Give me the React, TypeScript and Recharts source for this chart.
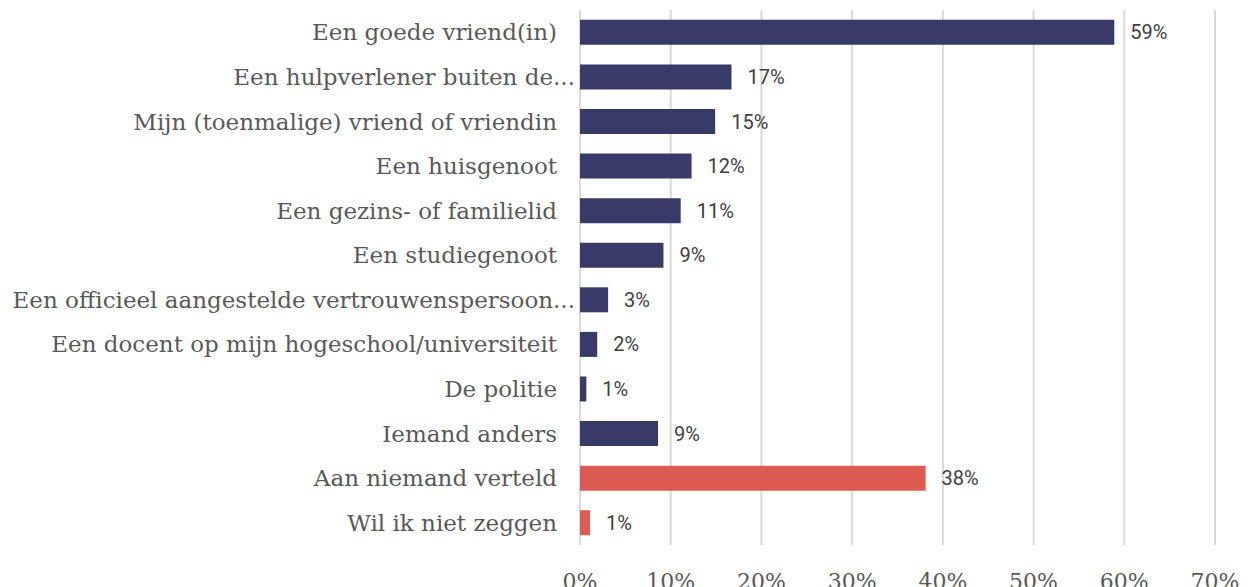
import { BarChart, Bar, XAxis, YAxis, CartesianGrid, Cell, LabelList } from 'recharts'

// answers (top to bottom) and share of respondents, in %
const categories = [
  'Een goede vriend(in)',
  'Een hulpverlener buiten de...',
  'Mijn (toenmalige) vriend of vriendin',
  'Een huisgenoot',
  'Een gezins- of familielid',
  'Een studiegenoot',
  'Een officieel aangestelde vertrouwenspersoon...',
  'Een docent op mijn hogeschool/universiteit',
  'De politie',
  'Iemand anders',
  'Aan niemand verteld',
  'Wil ik niet zeggen',
]
const shares = [58.9, 16.7, 14.9, 12.3, 11.1, 9.2, 3.1, 1.9, 0.7, 8.6, 38.1, 1.1]
const notTold = ['Aan niemand verteld', 'Wil ik niet zeggen']
const xTicks = [0, 10, 20, 30, 40, 50, 60, 70]

const data = categories.map((name, i) => ({ name, value: shares[i] }))

const SERIF = '"DejaVu Serif", serif'

const CategoryTick = ({ x, y, payload }: any) => {
  const cut = String(payload.value).endsWith('...')
  return (
    <text
      x={x - (cut ? -3 : 15)}
      y={y}
      dy="0.35em"
      textAnchor="end"
      fill="#595959"
      fontFamily={SERIF}
      fontSize={23}
    >
      {payload.value}
    </text>
  )
}

export default function App() {
  return (
    <div style={{ position: 'absolute', left: 0, top: 0, width: 1257, height: 587, background: '#fff' }}>
      <BarChart
        width={1257}
        height={587}
        data={data}
        layout="vertical"
        barCategoryGap="22%"
        margin={{ top: 10, right: 42, left: 0, bottom: 0 }}
      >
        <CartesianGrid horizontal={false} stroke="#d9d9d9" strokeWidth={2} />
        <XAxis
          type="number"
          domain={[0, 70]}
          ticks={xTicks}
          interval={0}
          height={42}
          axisLine={false}
          tickLine={false}
          tickMargin={22}
          tickFormatter={(v: number) => `${v}%`}
          tick={{ fill: '#595959', fontFamily: SERIF, fontSize: 22 }}
        />
        <YAxis
          type="category"
          dataKey="name"
          width={580}
          axisLine={false}
          tickLine={false}
          interval={0}
          tick={<CategoryTick />}
        />
        <Bar dataKey="value" isAnimationActive={false}>
          {data.map(d => (
            <Cell key={d.name} fill={notTold.includes(d.name) ? '#de5b51' : '#383b67'} />
          ))}
          <LabelList
            dataKey="value"
            position="right"
            offset={16}
            formatter={(v: any) => `${Math.round(v)}%`}
            style={{ fill: '#404040', fontFamily: 'Roboto, sans-serif', fontSize: 20 }}
          />
        </Bar>
      </BarChart>
    </div>
  )
}
